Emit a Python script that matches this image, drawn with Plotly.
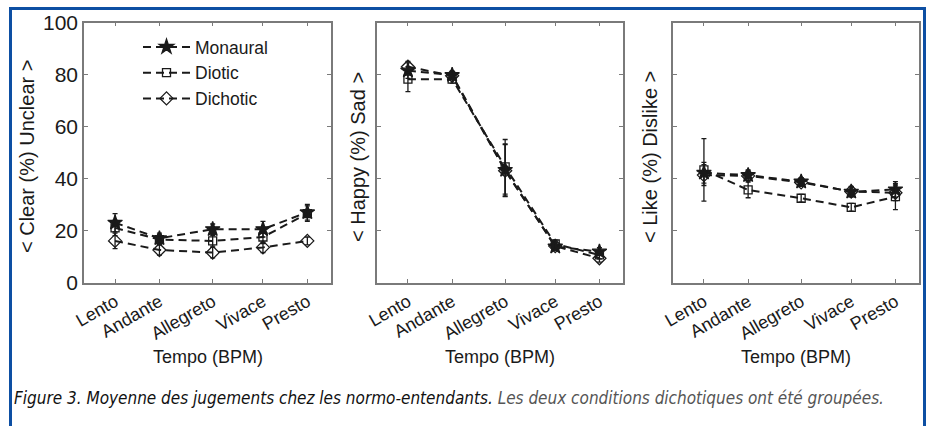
import plotly.graph_objects as go

# ---------------- data ----------------
categories = ["Lento", "Andante", "Allegreto", "Vivace", "Presto"]
tempo_bpm = [60, 90, 126, 160, 190]
y_ticks = [0, 20, 40, 60, 80, 100]
series_names = ["Monaural", "Diotic", "Dichotic"]

clear_monaural = [23, 17, 20.5, 20.5, 27]
clear_diotic = [21, 16.5, 16, 17.5, 26.5]
clear_dichotic = [16, 12.5, 11.5, 13.5, 16]
clear_monaural_err = [3.5, 2, 2, 3, 3]
clear_diotic_err = [3, 2, 2, 2.5, 3]
clear_dichotic_err = [3, 2, 2, 2, 1.5]

sad_monaural = [81.5, 79.8, 43.3, 13.8, 11.9]
sad_diotic = [78.2, 78.2, 44.5, 14.8, 10.6]
sad_dichotic = [83, 79.5, 43, 14, 9.3]
sad_monaural_err = [3, 1.5, 10, 1.5, 1.5]
sad_diotic_err = [4.8, 1.5, 10.5, 1.5, 1.5]
sad_dichotic_err = [2, 1.5, 10, 1.5, 1.5]

dislike_monaural = [42.2, 41.3, 38.8, 34.9, 35.8]
dislike_diotic = [43.3, 35.6, 32.4, 28.9, 33]
dislike_dichotic = [41.3, 41, 38.5, 35, 34.5]
dislike_monaural_err = [4, 2, 1.5, 2, 3]
dislike_diotic_err = [12, 3, 1.5, 1.5, 5]
dislike_dichotic_err = [4, 2, 1.5, 2, 3]

y_titles = ["< Clear (%) Unclear >", "< Happy (%) Sad >", "< Like (%) Dislike >"]
x_title = "Tempo (BPM)"
caption_main = "Figure 3. Moyenne des jugements chez les normo-entendants."
caption_rest = "Les deux conditions dichotiques ont été groupées."

# ---------------- figure ----------------
W, H = 931, 426
panels = [
    (clear_monaural, clear_diotic, clear_dichotic,
     clear_monaural_err, clear_diotic_err, clear_dichotic_err),
    (sad_monaural, sad_diotic, sad_dichotic,
     sad_monaural_err, sad_diotic_err, sad_dichotic_err),
    (dislike_monaural, dislike_diotic, dislike_dichotic,
     dislike_monaural_err, dislike_diotic_err, dislike_dichotic_err),
]
px_x = [(84, 331), (377, 623), (673, 919)]
px_y = (22.5, 282.5)

symbols = ["star", "square-open", "diamond-open"]
msizes = [11, 8, 10]
DASH = "8px,5px"
INK = "#1a1a1a"
AXC = "#7a7a7a"
FONT = "Liberation Sans"

fig = go.Figure()
for p, data in enumerate(panels):
    vals = data[:3]
    errs = data[3:]
    xa = "x" if p == 0 else f"x{p+1}"
    ya = "y" if p == 0 else f"y{p+1}"
    for s in range(3):
        fig.add_trace(go.Scatter(
            x=tempo_bpm, y=vals[s], name=series_names[s],
            xaxis=xa, yaxis=ya, mode="lines+markers",
            line=dict(color=INK, width=2, dash=DASH),
            marker=dict(symbol=symbols[s], size=msizes[s], color=INK,
                        line=dict(color=INK, width=1.3)),
            error_y=dict(type="data", array=errs[s], visible=True,
                         color=INK, thickness=1.3, width=2.5),
            showlegend=(p == 0),
        ))

layout = dict(
    width=W, height=H,
    margin=dict(l=0, r=0, t=0, b=0, pad=0),
    paper_bgcolor="white", plot_bgcolor="white",
    font=dict(family=FONT, color=INK, size=18),
    legend=dict(x=138 / W, y=1 - 29 / H, xanchor="left", yanchor="top",
                bgcolor="rgba(0,0,0,0)", borderwidth=0, itemwidth=47,
                font=dict(size=17.5, family=FONT, color=INK), tracegroupgap=0),
    showlegend=True,
)
ydom = [1 - px_y[1] / H, 1 - px_y[0] / H]
for p in range(3):
    xk = "xaxis" if p == 0 else f"xaxis{p+1}"
    yk = "yaxis" if p == 0 else f"yaxis{p+1}"
    anchor_x = "y" if p == 0 else f"y{p+1}"
    anchor_y = "x" if p == 0 else f"x{p+1}"
    layout[xk] = dict(
        domain=[px_x[p][0] / W, px_x[p][1] / W], anchor=anchor_x,
        range=[39, 206], tickvals=tempo_bpm, ticktext=categories,
        tickangle=-30, ticks="inside", ticklen=4, tickcolor=AXC,
        showline=True, linecolor=AXC, linewidth=1.5, mirror="ticks",
        showgrid=False, zeroline=False, automargin=False,
        tickfont=dict(size=18, family=FONT, color=INK),
    )
    layout[yk] = dict(
        domain=ydom, anchor=anchor_y,
        range=[0, 100], tickvals=y_ticks,
        ticks="inside", ticklen=4, tickcolor=AXC,
        showline=True, linecolor=AXC, linewidth=1.5, mirror="ticks",
        showgrid=False, zeroline=False, showticklabels=(p == 0),
        automargin=False,
        tickfont=dict(size=21, family=FONT, color=INK),
    )
fig.update_layout(**layout)

annotations = []
ytitle_x = [27, 358, 650]
for p in range(3):
    annotations.append(dict(
        text=y_titles[p], xref="paper", yref="paper",
        x=ytitle_x[p] / W, y=1 - 157 / H, textangle=-90,
        showarrow=False, font=dict(size=20, family=FONT, color=INK),
        xanchor="center", yanchor="middle"))
    annotations.append(dict(
        text=x_title, xref="paper", yref="paper",
        x=(px_x[p][0] + px_x[p][1]) / 2 / W, y=1 - 357 / H,
        showarrow=False, font=dict(size=18, family=FONT, color=INK),
        xanchor="center", yanchor="middle"))
annotations.append(dict(
    text=f"<i>{caption_main}</i> <i><span style='color:#555'>{caption_rest}</span></i>",
    xref="paper", yref="paper", x=12 / W, y=1 - 398 / H,
    xanchor="left", yanchor="middle", showarrow=False,
    font=dict(size=17, family="Liberation Sans Narrow, DejaVu Sans Condensed, sans-serif",
              color="#111")))
fig.update_layout(annotations=annotations)

fig.add_shape(type="rect", xref="paper", yref="paper",
              x0=10.5 / W, x1=924.5 / W, y0=-0.2, y1=1 - 8.5 / H,
              line=dict(color="#0d4fa3", width=3), fillcolor="rgba(0,0,0,0)",
              layer="above")

fig.write_html(
    "out.html",
    config={"displayModeBar": False},
    post_script="document.body.style.margin='0';document.body.style.padding='0';"
                "document.body.style.overflow='hidden';",
)
